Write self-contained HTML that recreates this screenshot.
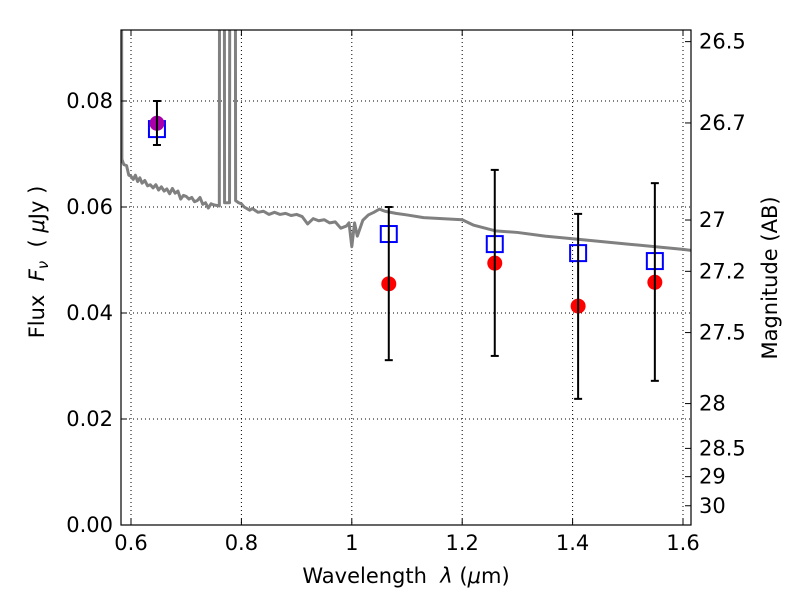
<!DOCTYPE html>
<html><head><meta charset="utf-8"><style>
html,body{margin:0;padding:0;background:#fff}
svg{display:block;font-family:"DejaVu Sans","Liberation Sans",sans-serif}
</style></head><body>
<svg id="chart" width="800" height="600" viewBox="0 0 800 600" xmlns="http://www.w3.org/2000/svg">
<rect width="800" height="600" fill="#fff"/>
<g id="grid"></g>
<g id="plot"></g>
<g id="axes"></g>
<text x="406" y="583" font-size="21" text-anchor="middle" xml:space="preserve">Wavelength  <tspan font-style="italic">λ</tspan> (<tspan font-style="italic">μ</tspan>m)</text>
<text transform="translate(44,262) rotate(-90)" font-size="21" text-anchor="middle" xml:space="preserve">Flux  <tspan font-style="italic">F</tspan><tspan font-style="italic" font-size="15" dy="4">ν</tspan><tspan dy="-4">  ( </tspan><tspan font-style="italic">μ</tspan>Jy )</text>
<text transform="translate(777,278) rotate(-90)" font-size="21" text-anchor="middle">Magnitude (AB)</text>
</svg>
<script>
const xTicks=[0.6,0.8,1.0,1.2,1.4,1.6];
const xTickLabels=["0.6","0.8","1","1.2","1.4","1.6"];
const yTicks=[0,0.02,0.04,0.06,0.08];
const yTickLabels=["0.00","0.02","0.04","0.06","0.08"];
const magTicks=[26.5,26.7,27,27.2,27.5,28,28.5,29,30];
const specLam=[0.5825,0.5835,0.587,0.592,0.596,0.6,0.604,0.608,0.612,0.616,0.62,0.625,0.63,0.635,0.64,0.645,0.65,0.655,0.66,0.665,0.67,0.675,0.68,0.685,0.69,0.695,0.7,0.705,0.71,0.715,0.72,0.725,0.73,0.735,0.74,0.745,0.75,0.76,0.7605,0.769,0.7695,0.7785,0.779,0.789,0.7895,0.795,0.8,0.805,0.81,0.815,0.82,0.83,0.84,0.85,0.86,0.87,0.88,0.89,0.9,0.91,0.92,0.93,0.94,0.95,0.96,0.97,0.98,0.99,0.995,1.0,1.005,1.01,1.02,1.03,1.04,1.05,1.06,1.08,1.1,1.13,1.2,1.22,1.26,1.3,1.35,1.4,1.5,1.6,1.615];
const specFlux=[0.12,0.069,0.068,0.0678,0.066,0.0658,0.0652,0.066,0.0648,0.0655,0.0645,0.065,0.064,0.0642,0.0636,0.0642,0.0632,0.0638,0.063,0.0634,0.0625,0.0635,0.0626,0.063,0.0615,0.0622,0.062,0.0615,0.0618,0.061,0.0612,0.0618,0.0605,0.0608,0.0598,0.0606,0.0604,0.0602,0.12,0.12,0.0608,0.0608,0.12,0.12,0.0612,0.0608,0.0606,0.06,0.0597,0.0594,0.0597,0.059,0.0592,0.0586,0.059,0.0586,0.0588,0.0584,0.0586,0.0582,0.0568,0.0578,0.0574,0.0576,0.057,0.0572,0.056,0.0564,0.057,0.0525,0.057,0.0545,0.0575,0.0585,0.059,0.0596,0.0592,0.0588,0.0585,0.058,0.0576,0.0566,0.0555,0.0552,0.0545,0.054,0.053,0.052,0.0518];
const bandLam=[0.647,1.067,1.259,1.41,1.549];
const modelFlux=[0.0747,0.0549,0.053,0.0513,0.0498];
const obsFlux=[0.0758,0.0455,0.0494,0.0413,0.0458];
const obsHi=[0.080,0.060,0.067,0.0587,0.0645];
const obsLo=[0.0717,0.0311,0.0319,0.0238,0.0272];
const obsColor=["#aa00aa","#ff0000","#ff0000","#ff0000","#ff0000"];

const L=121,R=691,T=30,B=525;
const xMin=0.6-(131-L)/552, xMax=0.6+(R-131)/552;
const yMax=(B-T)/5300;
const X=v=>L+(v-xMin)/(xMax-xMin)*(R-L);
const Y=v=>B-v/yMax*(B-T);
const NS="http://www.w3.org/2000/svg";
function mk(tag,parent,attrs){const e=document.createElementNS(NS,tag);for(const k in attrs)e.setAttribute(k,attrs[k]);parent.appendChild(e);return e;}
const grid=document.getElementById('grid'),plot=document.getElementById('plot'),axes=document.getElementById('axes');

xTicks.forEach((t,i)=>{
 const g=mk('line',grid,{x1:X(t),x2:X(t),y1:T,y2:B,stroke:'#000','stroke-width':1,'stroke-dasharray':'1,3'});
 
 
 mk('line',axes,{x1:X(t),x2:X(t),y1:B,y2:B-6,stroke:'#000'});
 mk('line',axes,{x1:X(t),x2:X(t),y1:T,y2:T+6,stroke:'#000'});
 const tx=mk('text',axes,{x:X(t),y:B+25,'font-size':21,'text-anchor':'middle'});
 tx.textContent=xTickLabels[i];
 
 
});
yTicks.forEach((t,i)=>{
 const g=mk('line',grid,{x1:L,x2:R,y1:Y(t),y2:Y(t),stroke:'#000','stroke-width':1,'stroke-dasharray':'1,3'});
 
 
 mk('line',axes,{x1:L,x2:L+6,y1:Y(t),y2:Y(t),stroke:'#000'});
 const tx=mk('text',axes,{x:L-8,y:Y(t)+7,'font-size':21,'text-anchor':'end'});
 tx.textContent=yTickLabels[i];
 
 
});
magTicks.forEach(m=>{
 const f=Math.pow(10,(23.9-m)/2.5);
 const y=Y(f);
 mk('line',axes,{x1:R-6,x2:R,y1:y,y2:y,stroke:'#000'});
 const tx=mk('text',axes,{x:R+8,y:y+7,'font-size':21});
 tx.textContent=String(m);
 
 
});

const cp=mk('clipPath',plot,{id:'clip'});mk('rect',cp,{x:L,y:T,width:R-L,height:B-T});
const sp=mk('polyline',plot,{points:specLam.map((l,i)=>X(l)+','+Y(specFlux[i])).join(' '),fill:'none',stroke:'#808080','stroke-width':3,'stroke-linejoin':'round','clip-path':'url(#clip)'});



bandLam.forEach((l,i)=>{
 const x=X(l);
 const sq=mk('rect',plot,{x:x-8,y:Y(modelFlux[i])-8,width:16,height:16,fill:'none',stroke:'#0000ff','stroke-width':2});
 
 
 const c=mk('circle',plot,{cx:x,cy:Y(obsFlux[i]),r:7.5,fill:obsColor[i]});
 
 
 const eb=mk('g',plot,{stroke:'#000','stroke-width':2});
 
 
 mk('line',eb,{x1:x,x2:x,y1:Y(obsHi[i]),y2:Y(obsLo[i])});
 mk('line',eb,{x1:x-4,x2:x+4,y1:Y(obsHi[i]),y2:Y(obsHi[i])});
 mk('line',eb,{x1:x-4,x2:x+4,y1:Y(obsLo[i]),y2:Y(obsLo[i])});
});
const fr=mk('rect',axes,{x:L,y:T,width:R-L,height:B-T,fill:'none',stroke:'#000','stroke-width':1.2});


</script>
</body></html>
